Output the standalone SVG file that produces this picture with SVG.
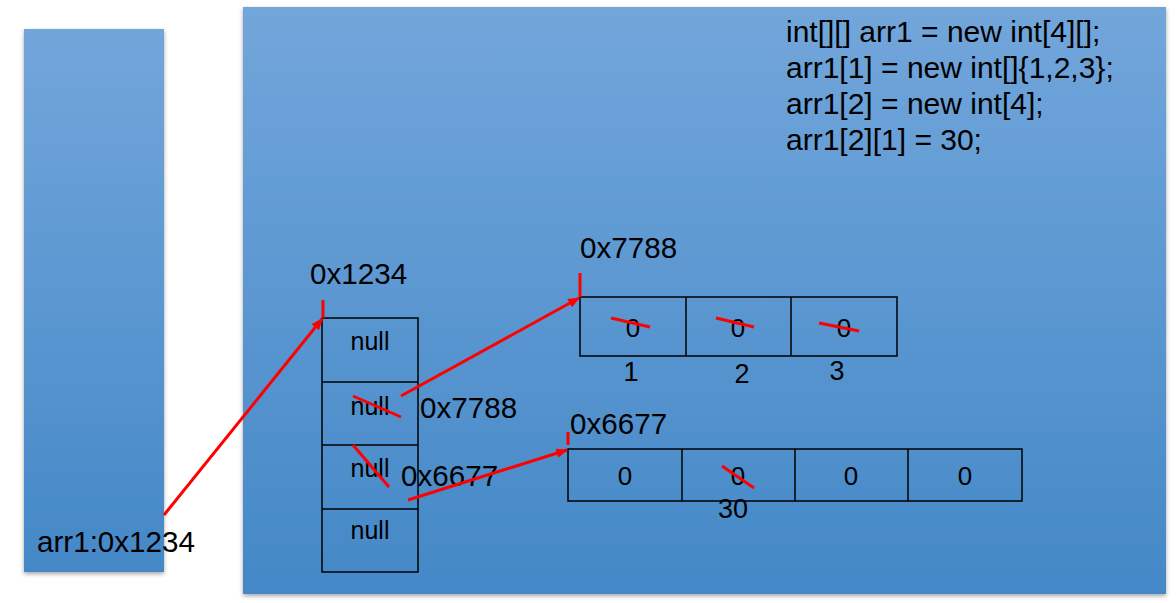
<svg xmlns="http://www.w3.org/2000/svg" width="1176" height="603" viewBox="0 0 1176 603">
<defs>
<linearGradient id="bg" x1="0" y1="0" x2="0" y2="1">
<stop offset="0" stop-color="#72a6db"/>
<stop offset="1" stop-color="#4488c7"/>
</linearGradient>
<filter id="sh" x="-5%" y="-5%" width="110%" height="110%">
<feDropShadow dx="0" dy="2" stdDeviation="2" flood-color="#000" flood-opacity="0.35"/>
</filter>
<marker id="ah" viewBox="0 0 10 8" refX="9" refY="4" markerWidth="12" markerHeight="10" markerUnits="userSpaceOnUse" orient="auto">
<path d="M0,0 L10,4 L0,8 z" fill="#ff0000"/>
</marker>
<style>
.t{font-family:"Liberation Sans",Arial,sans-serif;fill:#000}
.code{font-size:30px}
.lbl{font-size:29.6px}
.nul{font-size:25px;text-anchor:middle}
.cel{font-size:26px;text-anchor:middle}
.idx{font-size:27px;text-anchor:middle}
.box{fill:none;stroke:#000;stroke-width:1.5}
.red{stroke:#ff0000;stroke-width:3;fill:none}
</style>
</defs>
<rect x="0" y="0" width="1176" height="603" fill="#fff"/>
<g id="stack">
<rect x="24" y="29" width="140" height="543" fill="url(#bg)" filter="url(#sh)"/>
</g>
<g id="heap">
<rect x="243" y="7" width="923" height="587" fill="url(#bg)" filter="url(#sh)"/>
</g>
<g id="code">
<text class="t code" x="786" y="42">int[][] arr1 = new int[4][];</text>
<text class="t code" x="786" y="78">arr1[1] = new int[]{1,2,3};</text>
<text class="t code" x="786" y="114">arr1[2] = new int[4];</text>
<text class="t code" x="786" y="150">arr1[2][1] = 30;</text>
</g>
<g id="outer-array">
<rect class="box" x="322" y="318" width="96" height="254"/>
<line class="box" x1="322" y1="382" x2="418" y2="382"/>
<line class="box" x1="322" y1="445" x2="418" y2="445"/>
<line class="box" x1="322" y1="509" x2="418" y2="509"/>
<text class="t nul" x="370" y="350">null</text>
<text class="t nul" x="370" y="415">null</text>
<text class="t nul" x="370" y="477">null</text>
<text class="t nul" x="370" y="539">null</text>
<text class="t lbl" x="310" y="284">0x1234</text>
<text class="t lbl" x="420" y="418">0x7788</text>
<text class="t lbl" x="401" y="486">0x6677</text>
</g>
<g id="array1">
<rect class="box" x="580" y="297" width="317" height="59"/>
<line class="box" x1="686" y1="297" x2="686" y2="356"/>
<line class="box" x1="791" y1="297" x2="791" y2="356"/>
<text class="t cel" x="633" y="337">0</text>
<text class="t cel" x="738" y="337">0</text>
<text class="t cel" x="844" y="337">0</text>
<text class="t idx" x="631" y="381">1</text>
<text class="t idx" x="742" y="383">2</text>
<text class="t idx" x="837" y="380">3</text>
<text class="t lbl" x="580" y="258">0x7788</text>
</g>
<g id="array2">
<rect class="box" x="568" y="449" width="454" height="52"/>
<line class="box" x1="682" y1="449" x2="682" y2="501"/>
<line class="box" x1="795" y1="449" x2="795" y2="501"/>
<line class="box" x1="908" y1="449" x2="908" y2="501"/>
<text class="t cel" x="625" y="485">0</text>
<text class="t cel" x="738" y="485">0</text>
<text class="t cel" x="851" y="485">0</text>
<text class="t cel" x="965" y="485">0</text>
<text class="t idx" x="733" y="518">30</text>
<text class="t lbl" x="570" y="434">0x6677</text>
</g>
<g id="var">
<text class="t lbl" x="37" y="552">arr1:0x1234</text>
</g>
<g id="connectors">
<line class="red" x1="164" y1="515" x2="322" y2="319" marker-end="url(#ah)"/>
<line class="red" x1="323" y1="300" x2="323" y2="318"/>
<line class="red" x1="401" y1="396" x2="579" y2="298" marker-end="url(#ah)"/>
<line class="red" x1="580" y1="273" x2="580" y2="297"/>
<line class="red" x1="408" y1="500" x2="567" y2="450" marker-end="url(#ah)"/>
<line class="red" x1="568" y1="432" x2="568" y2="445"/>
<line class="red" x1="353" y1="396" x2="401" y2="417"/>
<line class="red" x1="353" y1="445" x2="389" y2="487"/>
<line class="red" x1="611" y1="318" x2="650" y2="327"/>
<line class="red" x1="716" y1="318" x2="754" y2="327"/>
<line class="red" x1="819" y1="323" x2="859" y2="331"/>
<line class="red" x1="722" y1="466" x2="754" y2="488"/>
</g>
</svg>
